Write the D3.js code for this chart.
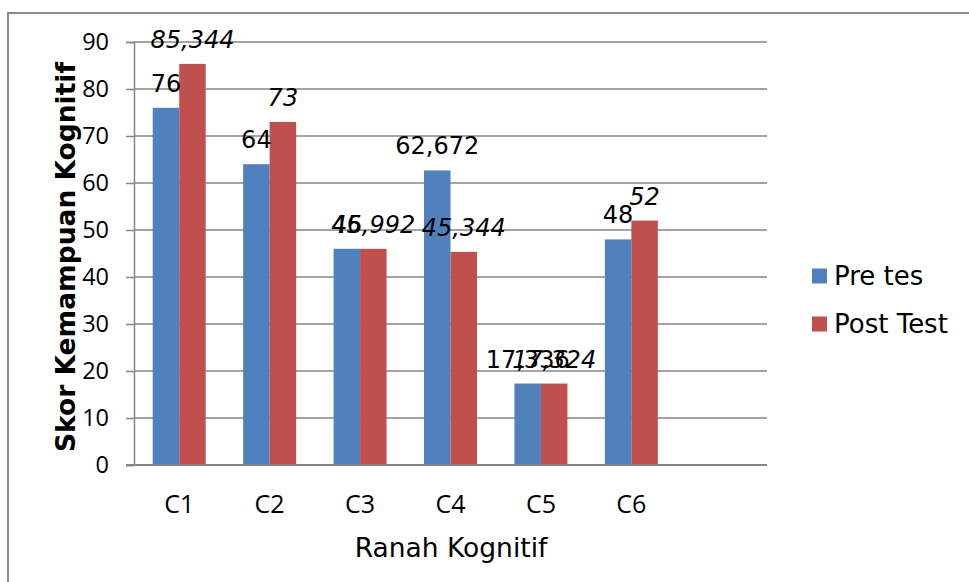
<!DOCTYPE html>
<html>
<head>
<meta charset="utf-8">
<script src="https://cdn.jsdelivr.net/npm/d3@7"></script>
<style>
  body { margin: 0; background: #fff; }
  svg { display: block; }
</style>
</head>
<body>
<svg id="chart" width="969" height="582"></svg>
<script>
const categories = ['C1', 'C2', 'C3', 'C4', 'C5', 'C6', ''];
const preTes = [76, 64, 46, 62.672, 17.336, 48];
const postTest = [85.344, 73, 45.992, 45.344, 17.324, 52];
const yTicks = [0, 10, 20, 30, 40, 50, 60, 70, 80, 90];
const seriesNames = ['Pre tes', 'Post Test'];
const colors = ['#4F81BD', '#C0504D'];

const svg = d3.select('#chart');
const plot = { left: 134, right: 767, top: 42, bottom: 465 };
const numFont = '"Open Sans", sans-serif';
const textFont = '"DejaVu Sans", Verdana, sans-serif';

// outer frame
svg.append('rect')
    .attr('x', 8).attr('y', 13)
    .attr('width', 980).attr('height', 600)
    .attr('fill', 'none')
    .attr('stroke', '#8c8c8c')
    .attr('stroke-width', 2);

const x = d3.scaleBand()
    .domain(categories.map((c, i) => i))
    .range([plot.left, plot.right]);

const y = d3.scaleLinear()
    .domain([0, 90])
    .range([plot.bottom, plot.top]);

const barW = x.bandwidth() * 0.293;

// gridlines
svg.append('g')
    .selectAll('line')
    .data(yTicks.filter(d => d > 0))
    .enter().append('line')
    .attr('x1', plot.left).attr('x2', plot.right)
    .attr('y1', d => y(d)).attr('y2', d => y(d))
    .attr('stroke', '#868686')
    .attr('stroke-width', 1.5);

// y axis
const yAxis = svg.append('g')
    .attr('transform', `translate(${plot.left},0)`)
    .call(d3.axisLeft(y).tickValues(yTicks).tickSize(8).tickPadding(17));
yAxis.select('.domain').attr('stroke', '#868686').attr('stroke-width', 1.5);
yAxis.selectAll('.tick line').attr('stroke', '#868686').attr('stroke-width', 1.5);
yAxis.selectAll('.tick text')
    .attr('font-family', numFont)
    .attr('font-size', 23.5)
    .attr('fill', '#000');

// bars
const groups = [preTes, postTest];
groups.forEach((vals, s) => {
    svg.append('g')
        .selectAll('rect')
        .data(vals)
        .enter().append('rect')
        .attr('x', (d, i) => x(i) + x.bandwidth() / 2 + (s - 1) * barW)
        .attr('y', d => y(d))
        .attr('width', barW)
        .attr('height', d => y(0) - y(d))
        .attr('fill', colors[s]);
});

// x axis line
svg.append('line')
    .attr('x1', plot.left - 8).attr('x2', plot.right)
    .attr('y1', y(0)).attr('y2', y(0))
    .attr('stroke', '#868686')
    .attr('stroke-width', 2);

// category labels
svg.append('g')
    .selectAll('text')
    .data(categories)
    .enter().append('text')
    .attr('x', (d, i) => x(i) + x.bandwidth() / 2)
    .attr('y', 503)
    .attr('text-anchor', 'middle')
    .attr('dominant-baseline', 'central')
    .attr('font-family', numFont)
    .attr('font-size', 25)
    .text(d => d);

// data labels
const fmt = v => String(v).replace('.', ',');
groups.forEach((vals, s) => {
    svg.append('g')
        .selectAll('text')
        .data(vals)
        .enter().append('text')
        .attr('x', (d, i) => x(i) + x.bandwidth() / 2 + (s - 0.5) * barW)
        .attr('y', d => y(d) - 16)
        .attr('text-anchor', 'middle')
        .attr('font-family', textFont)
        .attr('font-size', 24)
        .attr('font-style', s === 1 ? 'italic' : 'normal')
        .text(d => fmt(d));
});

// axis titles
svg.append('text')
    .attr('x', 451)
    .attr('y', 547)
    .attr('text-anchor', 'middle')
    .attr('dominant-baseline', 'central')
    .attr('font-family', textFont)
    .attr('font-size', 26.5)
    .text('Ranah Kognitif');

svg.append('text')
    .attr('transform', 'translate(65,257) rotate(-90)')
    .attr('text-anchor', 'middle')
    .attr('dominant-baseline', 'central')
    .attr('font-family', textFont)
    .attr('font-weight', 'bold')
    .attr('font-size', 26.5)
    .text('Skor Kemampuan Kognitif');

// legend
const legend = svg.append('g');
seriesNames.forEach((name, i) => {
    const cy = 276 + i * 48;
    legend.append('rect')
        .attr('x', 812).attr('y', cy - 7.5)
        .attr('width', 15).attr('height', 15)
        .attr('fill', colors[i]);
    legend.append('text')
        .attr('x', 834).attr('y', cy)
        .attr('dominant-baseline', 'central')
        .attr('font-family', textFont)
        .attr('font-size', 26)
        .text(name);
});
</script>
</body>
</html>
